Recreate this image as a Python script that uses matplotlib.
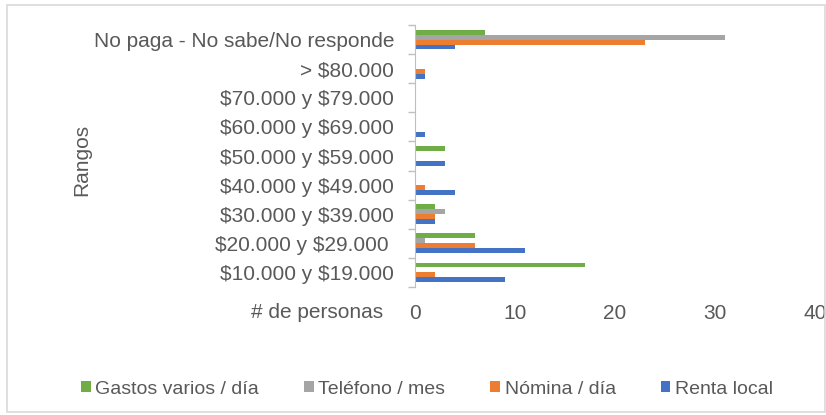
import matplotlib
matplotlib.use("Agg")
import matplotlib.pyplot as plt
import numpy as np
from matplotlib.patches import Rectangle

plt.rcParams['font.family'] = ['Liberation Sans', 'DejaVu Sans']
plt.rcParams['text.parse_math'] = False

categories = ["$10.000 y $19.000", "$20.000 y $29.000 ", "$30.000 y $39.000",
              "$40.000 y $49.000", "$50.000 y $59.000", "$60.000 y $69.000",
              "$70.000 y $79.000", "> $80.000", "No paga - No sabe/No responde"]
renta = [9, 11, 2, 4, 3, 1, 0, 1, 4]
nomina = [2, 6, 2, 1, 0, 0, 0, 1, 23]
telefono = [0, 1, 3, 0, 0, 0, 0, 0, 31]
gastos = [17, 6, 2, 0, 3, 0, 0, 0, 7]
series_names = ["Renta local", "Nómina / día", "Teléfono / mes", "Gastos varios / día"]
colors = ["#4472C4", "#ED7D31", "#A5A5A5", "#70AD47"]
xticks = [0, 10, 20, 30, 40]

text_color = "#595959"
fs = 15
fig = plt.figure(figsize=(8.26, 4.15), dpi=100)
ax = fig.add_axes([415/826, 1-287/415, 400/826, 262/415])

y = np.arange(len(categories))
h = 0.17
series = [renta, nomina, telefono, gastos]
handles = []
for i, (vals, name, c) in enumerate(zip(series, series_names, colors)):
    off = (i - 1.5) * h
    b = ax.barh(y + off, vals, height=h, color=c, label=name)
    handles.append(b)

ax.set_ylim(-0.5, len(categories) - 0.5)
ax.set_xlim(0, 40)
ax.set_xticks(xticks)
ax.set_xticklabels([str(v) for v in xticks], fontsize=fs, color=text_color)
ax.set_yticks(y)
ax.set_yticklabels(categories, fontsize=fs, color=text_color)
ax.tick_params(axis='y', which='major', length=0, pad=15)
ax.set_yticks(np.arange(-0.5, len(categories)), minor=True)
ax.tick_params(axis='y', which='minor', length=5, color="#BFBFBF", width=1)
ax.tick_params(axis='x', length=0, pad=12)
for s in ['top', 'right', 'bottom']:
    ax.spines[s].set_visible(False)
ax.spines['left'].set_color("#BFBFBF")

fig.text(82/826, 1-160/415, "Rangos", rotation=90, fontsize=fs, color=text_color,
         ha='center', va='center')
fig.text(383/826, 1-312/415, "# de personas", fontsize=fs, color=text_color,
         ha='right', va='center')

leg_handles = handles[::-1]
leg = fig.legend(leg_handles, [h_.get_label() for h_ in leg_handles],
                 loc='center', bbox_to_anchor=(427/826, 1-389/415), ncol=4,
                 frameon=False, fontsize=14, handlelength=0.5, handleheight=0.5,
                 handletextpad=0.25, columnspacing=2.3)
for t in leg.get_texts():
    t.set_color(text_color)

fig.patches.append(Rectangle((7/826, 3/415), 1 - 8/826, 1 - 8/415, transform=fig.transFigure,
                             fill=False, edgecolor="#D9D9D9", linewidth=1.2))

fig.savefig("out.png", dpi=100)
